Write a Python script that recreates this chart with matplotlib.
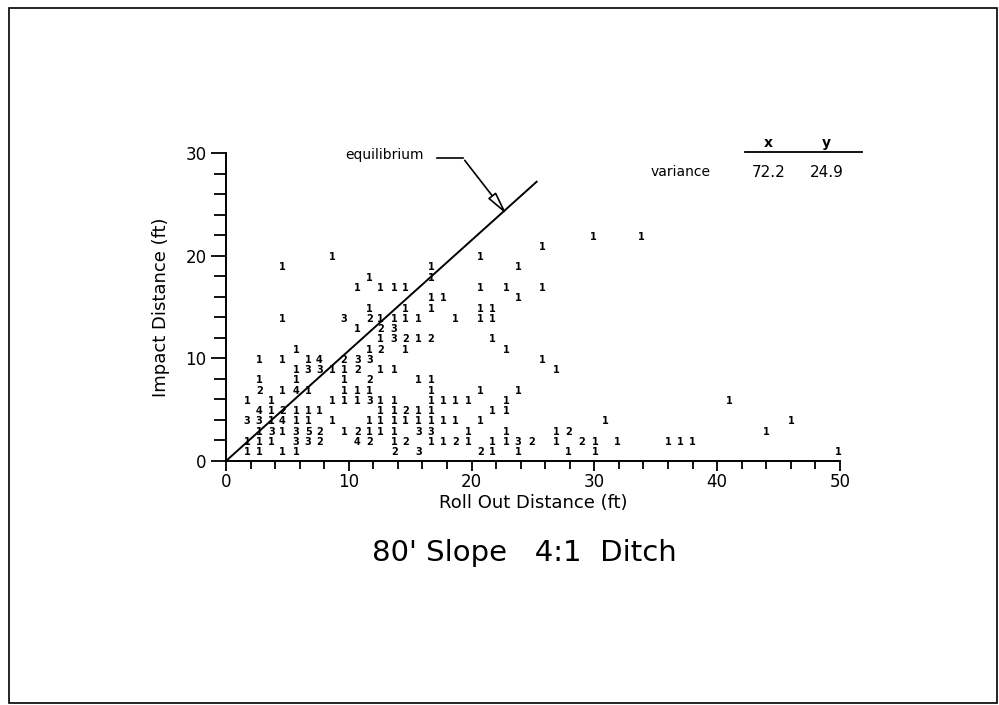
import matplotlib
matplotlib.use('Agg')
import matplotlib.pyplot as plt
from matplotlib.ticker import MultipleLocator
from matplotlib.patches import Rectangle

# roll out distance (ft), impact distance (ft), number of runs at that cell
pt_x = [1.7, 1.7, 1.7, 1.7,
        2.7, 2.7, 2.7, 2.7, 2.7, 2.7, 2.7, 2.7,
        3.7, 3.7, 3.7, 3.7, 3.7,
        4.6, 4.6, 4.6, 4.6, 4.6, 4.6, 4.6, 4.6,
        5.7, 5.7, 5.7, 5.7, 5.7, 5.7, 5.7, 5.7, 5.7,
        6.7, 6.7, 6.7, 6.7, 6.7, 6.7, 6.7,
        7.6, 7.6, 7.6, 7.6, 7.6,
        8.7, 8.7, 8.7, 8.7,
        9.6, 9.6, 9.6, 9.6, 9.6, 9.6, 9.6,
        10.7, 10.7, 10.7, 10.7, 10.7, 10.7, 10.7, 10.7,
        11.7, 11.7, 11.7, 11.7, 11.7, 11.7, 11.7, 11.7, 11.7, 11.7, 11.7,
        12.6, 12.6, 12.6, 12.6, 12.6, 12.6, 12.6, 12.6, 12.6, 12.6,
        13.7, 13.7, 13.7, 13.7, 13.7, 13.7, 13.7, 13.7, 13.7, 13.7, 13.7,
        14.6, 14.6, 14.6, 14.6, 14.6, 14.6, 14.6, 14.6,
        15.7, 15.7, 15.7, 15.7, 15.7, 15.7, 15.7,
        16.7, 16.7, 16.7, 16.7, 16.7, 16.7, 16.7, 16.7, 16.7, 16.7, 16.7, 16.7,
        17.7, 17.7, 17.7, 17.7,
        18.7, 18.7, 18.7, 18.7,
        19.7, 19.7, 19.7,
        20.7, 20.7, 20.7, 20.7, 20.7, 20.7, 20.7,
        21.7, 21.7, 21.7, 21.7, 21.7, 21.7,
        22.8, 22.8, 22.8, 22.8, 22.8, 22.8,
        23.8, 23.8, 23.8, 23.8, 23.8,
        24.9,
        25.8, 25.8, 25.8,
        26.9, 26.9, 26.9,
        27.9, 27.9,
        29.0, 29.9, 30.1, 30.1, 30.9, 31.9, 33.8,
        36.0, 37.0, 38.0, 41.0, 44.0, 46.0, 49.9]
pt_y = [6, 4, 2, 1,
        10, 8, 7, 5, 4, 3, 2, 1,
        6, 5, 4, 3, 2,
        19, 14, 10, 7, 5, 4, 3, 1,
        11, 9, 8, 7, 5, 4, 3, 2, 1,
        10, 9, 7, 5, 4, 3, 2,
        10, 9, 5, 3, 2,
        20, 9, 6, 4,
        14, 10, 9, 8, 7, 6, 3,
        17, 13, 10, 9, 7, 6, 3, 2,
        18, 15, 14, 11, 10, 8, 7, 6, 4, 3, 2,
        17, 14, 13, 12, 11, 9, 6, 5, 4, 3,
        17, 14, 13, 12, 9, 6, 5, 4, 3, 2, 1,
        17, 15, 14, 12, 11, 5, 4, 2,
        14, 12, 8, 5, 4, 3, 1,
        19, 18, 16, 15, 12, 8, 7, 6, 5, 4, 3, 2,
        16, 6, 4, 2,
        14, 6, 4, 2,
        6, 3, 2,
        20, 17, 15, 14, 7, 4, 1,
        15, 14, 12, 5, 2, 1,
        17, 11, 6, 5, 3, 2,
        19, 16, 7, 2, 1,
        2,
        21, 17, 10,
        9, 3, 2,
        3, 1,
        2, 22, 2, 1, 4, 2, 22,
        2, 2, 2, 6, 3, 4, 1]
pt_n = [1, 3, 1, 1,
        1, 1, 2, 4, 3, 1, 1, 1,
        1, 1, 1, 3, 1,
        1, 1, 1, 1, 2, 4, 1, 1,
        1, 1, 1, 4, 1, 1, 3, 3, 1,
        1, 3, 1, 1, 1, 5, 3,
        4, 3, 1, 2, 2,
        1, 1, 1, 1,
        3, 2, 1, 1, 1, 1, 1,
        1, 1, 3, 2, 1, 1, 2, 4,
        1, 1, 2, 1, 3, 2, 1, 3, 1, 1, 2,
        1, 1, 2, 1, 2, 1, 1, 1, 1, 1,
        1, 1, 3, 3, 1, 1, 1, 1, 1, 1, 2,
        1, 1, 1, 2, 1, 2, 1, 2,
        1, 1, 1, 1, 1, 3, 3,
        1, 1, 1, 1, 2, 1, 1, 1, 1, 1, 3, 1,
        1, 1, 1, 1,
        1, 1, 1, 2,
        1, 1, 1,
        1, 1, 1, 1, 1, 1, 2,
        1, 1, 1, 1, 1, 1,
        1, 1, 1, 1, 1, 1,
        1, 1, 1, 3, 1,
        2,
        1, 1, 1,
        1, 1, 1,
        2, 1,
        2, 1, 1, 1, 1, 1, 1,
        1, 1, 1, 1, 1, 1, 1]

equil_x = [0, 25.3]
equil_y = [0, 27.2]

var_names = ['x', 'y']
var_vals = [72.2, 24.9]

fig = plt.figure(figsize=(9.99, 7.05), dpi=100)
ax = fig.add_axes([0.2262, 0.3461, 0.6146, 0.4369])

for x, y, n in zip(pt_x, pt_y, pt_n):
    ax.text(x, y - 0.15, str(n), ha='center', va='center', fontsize=7,
            fontweight='bold', color='black')

ax.plot(equil_x, equil_y, color='black', lw=1.4)

# equilibrium callout
ax.text(12.9, 29.8, 'equilibrium', ha='center', va='center', fontsize=10)
ax.plot([17.2, 19.3], [29.5, 29.5], color='black', lw=1.2, clip_on=False)
ax.annotate('', xy=(23.0, 23.8), xytext=(19.3, 29.5),
            arrowprops=dict(arrowstyle='-|>,head_length=1.4,head_width=0.3',
                            fc='white', ec='black', lw=1.2), annotation_clip=False)

# variance table
ax.text(37.0, 28.1, 'variance', ha='center', va='center', fontsize=10)
for xx, name, val in zip([44.2, 48.9], var_names, var_vals):
    ax.text(xx, 31.0, name, ha='center', va='center', fontsize=10, fontweight='bold')
    ax.text(xx, 28.1, '%.1f' % val, ha='center', va='center', fontsize=11)
ax.plot([42.3, 51.8], [30.1, 30.1], color='black', lw=1.3, clip_on=False)

ax.set_xlim(0, 50)
ax.set_ylim(0, 30)
ax.spines['top'].set_visible(False)
ax.spines['right'].set_visible(False)
ax.spines['left'].set_linewidth(1.4)
ax.spines['bottom'].set_linewidth(1.4)
ax.xaxis.set_major_locator(MultipleLocator(10))
ax.xaxis.set_minor_locator(MultipleLocator(2))
ax.yaxis.set_major_locator(MultipleLocator(10))
ax.yaxis.set_minor_locator(MultipleLocator(2))
ax.tick_params(axis='x', which='major', length=7, width=1.3, labelsize=12, pad=2)
ax.tick_params(axis='x', which='minor', length=6, width=1.3)
ax.tick_params(axis='y', which='major', length=11, width=1.3, labelsize=12, pad=3)
ax.tick_params(axis='y', which='minor', length=9, width=1.3)

ax.set_xlabel('Roll Out Distance (ft)', fontsize=13, labelpad=2)
ax.set_ylabel('Impact Distance (ft)', fontsize=13, labelpad=11)
fig.text(0.5245, 1 - 553 / 705, "80' Slope   4:1  Ditch", ha='center', va='center',
         fontsize=21)

fig.patches.append(Rectangle((9 / 999, 2 / 705), 988 / 999, 695 / 705, transform=fig.transFigure,
                             fill=False, ec='black', lw=1.2))

fig.savefig('out.png', dpi=100)
